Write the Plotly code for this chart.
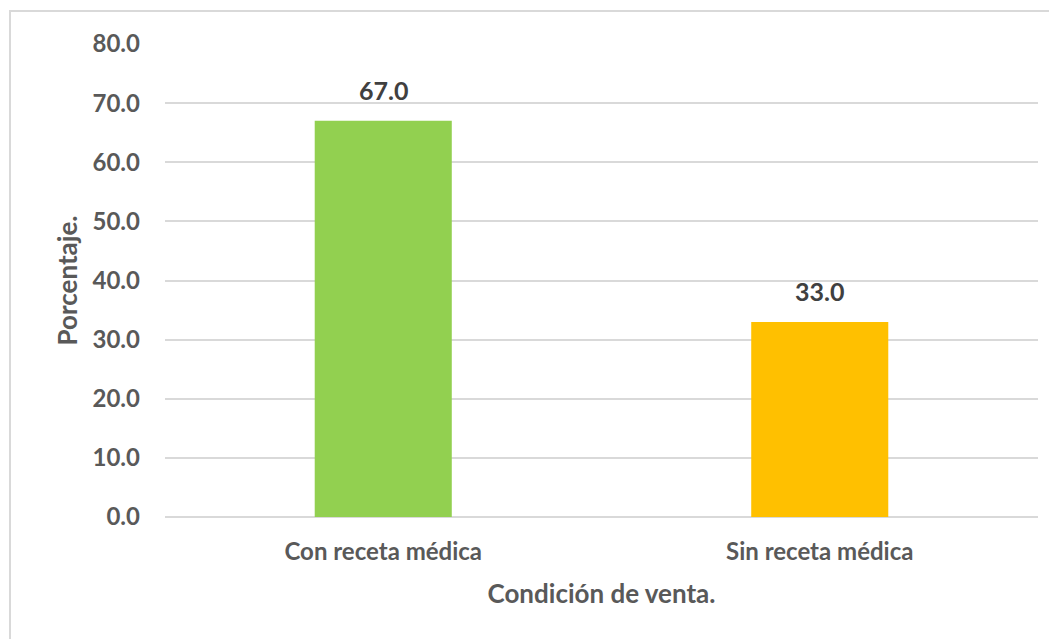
import plotly.graph_objects as go

categories = ["Con receta médica", "Sin receta médica"]
values = [67.0, 33.0]
colors = ["#92D050", "#FFC000"]
tick_vals = [0, 10, 20, 30, 40, 50, 60, 70, 80]
tick_text = ["0.0", "10.0", "20.0", "30.0", "40.0", "50.0", "60.0", "70.0", "80.0"]

FONT = "Lato"
GRAY = "#595959"

W, H = 1049, 631  # page body adds an 8px offset

fig = go.Figure()
fig.add_trace(go.Bar(
    x=categories, y=values,
    marker=dict(color=colors, line=dict(width=0)),
    width=0.314,
    cliponaxis=False,
    hoverinfo="skip",
))

for c, v in zip(categories, values):
    fig.add_annotation(x=c, y=v, text=f"{v:.1f}", showarrow=False,
                       yanchor="bottom", yshift=14,
                       font=dict(family=FONT, size=25, color="#404040", weight="bold"))

fig.update_layout(
    width=W, height=H,
    margin=dict(l=157, r=19, t=36, b=122),
    paper_bgcolor="white", plot_bgcolor="white",
    showlegend=False,
    font=dict(family=FONT, color=GRAY),
    xaxis=dict(
        showgrid=False, showline=False, zeroline=False,
        tickfont=dict(family=FONT, size=24, color=GRAY, weight="bold"),
        ticks="", ticklabelstandoff=18,
        title=dict(text="Condición de venta.", standoff=20,
                   font=dict(family=FONT, size=26, color=GRAY, weight="bold")),
    ),
    yaxis=dict(
        range=[0, 80], tickvals=tick_vals, ticktext=tick_text,
        showgrid=True, gridcolor="#D9D9D9", gridwidth=1.5,
        zeroline=True, zerolinecolor="#D9D9D9", zerolinewidth=1.5,
        showline=False, ticks="", ticklabelstandoff=24,
        tickfont=dict(family=FONT, size=24, color=GRAY, weight="bold"),
        title=dict(text="Porcentaje.", standoff=7,
                   font=dict(family=FONT, size=26, color=GRAY, weight="bold")),
    ),
    bargap=0.686,
)

fig.add_shape(type="rect", xref="paper", yref="paper",
              x0=(10 - 165) / 873, x1=1.1, y0=-0.4, y1=(517 - 11) / 473,
              line=dict(color="#D9D9D9", width=2), fillcolor="rgba(0,0,0,0)",
              layer="below")

fig.write_html("out.html")
